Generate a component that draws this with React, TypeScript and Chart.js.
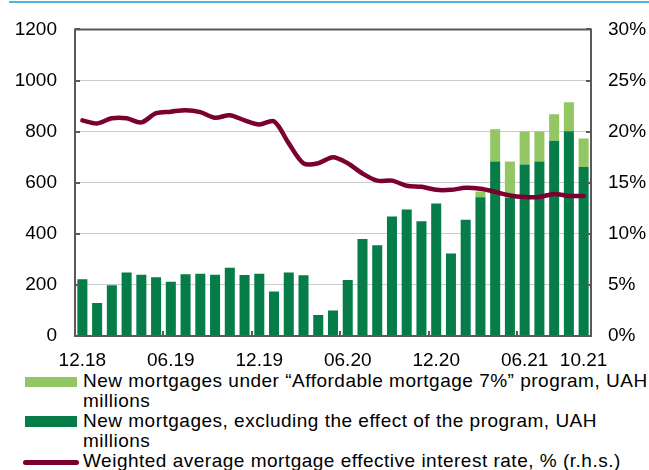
import React, { useEffect, useRef } from "react";
import { Chart, registerables } from "chart.js";

Chart.register(...registerables);

const months = [
  "12.18", "01.19", "02.19", "03.19", "04.19", "05.19", "06.19", "07.19", "08.19", "09.19", "10.19", "11.19",
  "12.19", "01.20", "02.20", "03.20", "04.20", "05.20", "06.20", "07.20", "08.20", "09.20", "10.20", "11.20",
  "12.20", "01.21", "02.21", "03.21", "04.21", "05.21", "06.21", "07.21", "08.21", "09.21", "10.21",
];
const shownLabels = ["12.18", "06.19", "12.19", "06.20", "12.20", "06.21", "10.21"];
const tickMarkMonths = ["06.19", "12.19", "06.20", "12.20", "06.21"];

const excludingProgram = [
  222, 129, 199, 249, 240, 230, 212, 242, 244, 240, 267, 239,
  244, 174, 249, 238, 82, 100, 219, 380, 355, 468, 495, 449,
  519, 323, 455, 543, 683, 540, 671, 683, 764, 801, 661,
];
const underProgram = [
  0, 0, 0, 0, 0, 0, 0, 0, 0, 0, 0, 0,
  0, 0, 0, 0, 0, 0, 0, 0, 0, 0, 0, 0,
  0, 0, 0, 23, 126, 143, 129, 117, 104, 114, 112,
];
const rate = [
  21.1, 20.8, 21.3, 21.3, 20.9, 21.8, 21.95, 22.1, 21.9, 21.35, 21.6, 21.1,
  20.7, 21.0, 18.85, 16.9, 16.9, 17.5, 16.9, 15.9, 15.2, 15.2, 14.7, 14.6,
  14.3, 14.3, 14.5, 14.4, 14.1, 13.75, 13.6, 13.6, 13.9, 13.7, 13.7,
];

const legendLabels = [
  ["New mortgages under \u201CAffordable mortgage 7%\u201D program, UAH", "millions"],
  ["New mortgages, excluding the effect of the program, UAH", "millions"],
  ["Weighted average mortgage effective interest rate, % (r.h.s.)"],
];

const LIGHT = "#92c763";
const DARK = "#067d48";
const MAROON = "#7a0030";
const AXIS = "#595959";
const FONT = "'Liberation Sans', Arial, sans-serif";

const framePlugin = {
  id: "frame",
  afterDatasetsDraw(chart: any) {
    const { ctx, chartArea, scales } = chart;
    const { left, right, top, bottom } = chartArea;
    ctx.save();
    ctx.strokeStyle = AXIS;
    ctx.lineWidth = 2;
    ctx.beginPath();
    ctx.rect(left, top, right - left, bottom - top);
    ctx.stroke();
    ctx.beginPath();
    const y = scales.y;
    y.ticks.forEach((t: any) => {
      const py = Math.round(y.getPixelForValue(t.value));
      ctx.moveTo(left, py);
      ctx.lineTo(left + 5, py);
      ctx.moveTo(right, py);
      ctx.lineTo(right - 5, py);
    });
    const x = scales.x;
    tickMarkMonths.forEach((m) => {
      const i = months.indexOf(m);
      const px = Math.round((x.getPixelForValue(i - 1) + x.getPixelForValue(i)) / 2);
      ctx.moveTo(px, bottom);
      ctx.lineTo(px, bottom - 5);
    });
    ctx.stroke();
    ctx.restore();
  },
};

export default function App() {
  const ref = useRef<HTMLCanvasElement>(null);
  useEffect(() => {
    const chart = new Chart(ref.current!, {
      type: "bar",
      data: {
        labels: months,
        datasets: [
          {
            type: "line",
            label: legendLabels[2][0],
            data: rate,
            yAxisID: "y1",
            borderColor: MAROON,
            backgroundColor: MAROON,
            borderWidth: 4.5,
            pointRadius: 0,
            tension: 0.3,
            borderCapStyle: "round",
            borderJoinStyle: "round",
            order: 0,
          } as any,
          {
            label: legendLabels[1].join(" "),
            data: excludingProgram,
            backgroundColor: DARK,
            stack: "s",
            yAxisID: "y",
            categoryPercentage: 1,
            barPercentage: 0.68,
            order: 1,
          },
          {
            label: legendLabels[0].join(" "),
            data: underProgram,
            backgroundColor: LIGHT,
            stack: "s",
            yAxisID: "y",
            categoryPercentage: 1,
            barPercentage: 0.68,
            order: 2,
          },
        ],
      },
      options: {
        responsive: false,
        animation: false,
        layout: { padding: { top: 23, left: 0, right: 0, bottom: 0 } },
        plugins: { legend: { display: false }, tooltip: { enabled: false } },
        scales: {
          x: {
            stacked: true,
            offset: true,
            grid: { display: false, drawTicks: false },
            border: { display: false },
            ticks: {
              autoSkip: false,
              maxRotation: 0,
              padding: 13,
              color: "#000",
              font: { family: FONT, size: 19 },
              callback: (_v: any, i: number) => (shownLabels.includes(months[i]) ? months[i] : ""),
            },
            afterFit: (s: any) => {
              s.height = 34;
            },
          },
          y: {
            stacked: true,
            position: "left",
            min: 0,
            max: 1200,
            grid: { color: "#c8cccc", lineWidth: 1, drawTicks: false },
            border: { display: false },
            ticks: {
              stepSize: 200,
              padding: 18,
              color: "#000",
              font: { family: FONT, size: 19 },
              callback: (v: any) => String(v),
            },
            afterFit: (s: any) => {
              s.width = 75;
            },
          },
          y1: {
            position: "right",
            min: 0,
            max: 30,
            grid: { display: false, drawTicks: false },
            border: { display: false },
            ticks: {
              stepSize: 5,
              padding: 17,
              color: "#000",
              font: { family: FONT, size: 19 },
              callback: (v: any) => v + "%",
            },
            afterFit: (s: any) => {
              s.width = 58;
            },
          },
        },
      },
      plugins: [framePlugin],
    });
    return () => chart.destroy();
  }, []);

  const textStyle: React.CSSProperties = {
    position: "absolute",
    left: 83,
    fontFamily: FONT,
    fontSize: 19,
    letterSpacing: "0.5px",
    lineHeight: "20px",
    color: "#000",
    whiteSpace: "nowrap",
  };

  return (
    <div
      style={{
        position: "fixed",
        left: 0,
        top: 0,
        width: 649,
        height: 470,
        overflow: "hidden",
        background: "#fff",
      }}
    >
      <div style={{ position: "absolute", left: 9, top: 1, width: 640, height: 2, background: "#4db3e6" }} />
      <canvas ref={ref} width={649} height={370} style={{ position: "absolute", left: 0, top: 0 }} />
      <div style={{ position: "absolute", left: 25, top: 377, width: 52, height: 10, background: LIGHT }} />
      <div style={{ ...textStyle, top: 371 }}>
        {legendLabels[0][0]}
        <br />
        {legendLabels[0][1]}
      </div>
      <div style={{ position: "absolute", left: 25, top: 416, width: 52, height: 11, background: DARK }} />
      <div style={{ ...textStyle, top: 411 }}>
        {legendLabels[1][0]}
        <br />
        {legendLabels[1][1]}
      </div>
      <div
        style={{ position: "absolute", left: 23, top: 460, width: 56, height: 5, borderRadius: 3, background: MAROON }}
      />
      <div style={{ ...textStyle, top: 451 }}>{legendLabels[2][0]}</div>
    </div>
  );
}
